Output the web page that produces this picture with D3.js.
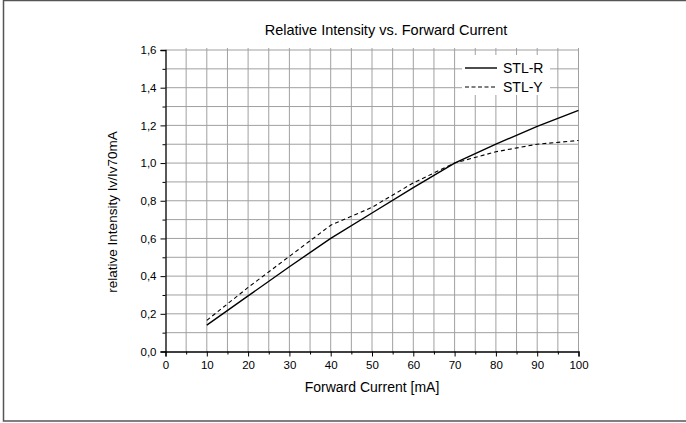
<!DOCTYPE html>
<html><head><meta charset="utf-8">
<script src="https://cdn.jsdelivr.net/npm/d3@7"></script>
<style>body{margin:0;background:#fff}svg{display:block}text{font-family:"Liberation Sans",Arial,sans-serif;fill:#000}</style>
</head><body><svg id="c" width="686" height="423"></svg>
<script>
const currents = [10, 20, 30, 40, 50, 60, 70, 80, 90, 100];
const stlR = [0.14, 0.295, 0.45, 0.60, 0.735, 0.87, 1.0, 1.10, 1.195, 1.28];
const stlY = [0.165, 0.34, 0.505, 0.67, 0.765, 0.895, 1.0, 1.06, 1.10, 1.12];
const seriesNames = ["STL-R", "STL-Y"];
const xTicks = [0,10,20,30,40,50,60,70,80,90,100];
const yTicks = [0,0.2,0.4,0.6,0.8,1.0,1.2,1.4,1.6];
const titleText = "Relative Intensity vs. Forward Current";
const xLabel = "Forward Current [mA]";
const yLabel = "relative Intensity Iv/Iv70mA";

const svg = d3.select("#c");
const L = 165.5, R = 578.5, T = 50, B = 351.5;
const x = d3.scaleLinear().domain([0,100]).range([L,R]);
const y = d3.scaleLinear().domain([0,1.6]).range([B,T]);

svg.append("rect").attr("x",3.5).attr("y",0.5).attr("width",700).attr("height",420.5)
  .attr("fill","none").attr("stroke","#555").attr("stroke-width",1.5);

// grid
const g = svg.append("g");
g.selectAll(".vg").data(d3.range(5,101,5)).join("line")
  .attr("x1",d=>x(d)).attr("x2",d=>x(d)).attr("y1",T-2).attr("y2",B)
  .attr("stroke","#a0a0a0").attr("stroke-width",1);
g.selectAll(".hg").data(d3.range(1,17).map(d=>d/10)).join("line")
  .attr("x1",L).attr("x2",R).attr("y1",d=>y(d)).attr("y2",d=>y(d))
  .attr("stroke","#a0a0a0").attr("stroke-width",1);

// axes
const fmt = d => d3.format(".1f")(d).replace(".", ",");
const xa = svg.append("g").attr("transform",`translate(0,${B})`)
  .call(d3.axisBottom(x).tickValues(xTicks).tickSize(5).tickPadding(4).tickFormat(d3.format("d")));
const xm = svg.append("g").attr("transform",`translate(0,${B})`)
  .call(d3.axisBottom(x).tickValues(d3.range(5,100,10)).tickSize(3).tickFormat(""));
const ya = svg.append("g").attr("transform",`translate(${L},0)`)
  .call(d3.axisLeft(y).tickValues(yTicks).tickSize(5).tickPadding(4).tickFormat(fmt));
const ym = svg.append("g").attr("transform",`translate(${L},0)`)
  .call(d3.axisLeft(y).tickValues(d3.range(1,16,2).map(d=>d/10)).tickSize(3).tickFormat(""));
[xa,xm,ya,ym].forEach(a=>{
  a.selectAll("path").attr("stroke","#000").attr("stroke-width",1.3);
  a.selectAll("line").attr("stroke","#000").attr("stroke-width",1);
  a.selectAll("text").style("font-size","11.5px").style("font-family","'Liberation Sans',Arial,sans-serif").attr("fill","#000");
});
xm.select("path").remove(); ym.select("path").remove();

// lines
const line = d3.line().x((d,i)=>x(currents[i])).y(d=>y(d));
svg.append("path").datum(stlR).attr("d",line).attr("fill","none").attr("stroke","#000").attr("stroke-width",1.4);
svg.append("path").datum(stlY).attr("d",line).attr("fill","none").attr("stroke","#000").attr("stroke-width",1.1).attr("stroke-dasharray","4,3");

// legend
const lg = svg.append("g");
lg.append("rect").attr("x",462).attr("y",55).attr("width",88).attr("height",40).attr("fill","#fff");
const dashes = [null,"4,2.5"];
seriesNames.forEach((n,i)=>{
  const yy = 68 + i*19;
  lg.append("line").attr("x1",465).attr("x2",497).attr("y1",yy).attr("y2",yy)
    .attr("stroke","#000").attr("stroke-width",i?1.1:1.4).attr("stroke-dasharray",dashes[i]);
  lg.append("text").attr("x",503).attr("y",yy+5).style("font-size","14px").text(n);
});

// titles
svg.append("text").attr("x",386).attr("y",35).attr("text-anchor","middle").style("font-size","14.5px").text(titleText);
svg.append("text").attr("x",372).attr("y",392).attr("text-anchor","middle").style("font-size","14px").text(xLabel);
svg.append("text").attr("transform","translate(117,212) rotate(-90)").attr("text-anchor","middle").style("font-size","13.5px").text(yLabel);
</script></body></html>
